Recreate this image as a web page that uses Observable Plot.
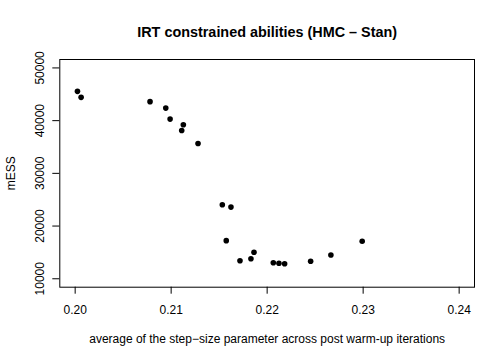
<!DOCTYPE html>
<html>
<head>
<meta charset="utf-8">
<script src="https://cdn.jsdelivr.net/npm/d3@7"></script>
<script src="https://cdn.jsdelivr.net/npm/@observablehq/plot@0.6"></script>
<style>
  html, body { margin: 0; padding: 0; background: #fff; }
  svg { display: block; }
</style>
</head>
<body>
<div id="chart"></div>
<script>
const title = "IRT constrained abilities (HMC \u2013 Stan)";
const xLabel = "average of the step\u2212size parameter across post warm-up iterations";
const yLabel = "mESS";

const stepSize = [0.20024, 0.20062, 0.20780, 0.20944, 0.20989, 0.21127, 0.21110, 0.21280,
  0.21533, 0.21623, 0.21574, 0.21717, 0.21831, 0.21863, 0.22064, 0.22123, 0.22182,
  0.22453, 0.22664, 0.22990];
const mESS = [45560, 44420, 43600, 42380, 40290, 39220, 38130, 35660,
  24040, 23600, 17230, 13420, 13810, 15020, 13040, 12930, 12850,
  13310, 14510, 17120];

const xTicks = [0.20, 0.21, 0.22, 0.23, 0.24];
const yTicks = [10000, 20000, 30000, 40000, 50000];

const data = stepSize.map((x, i) => ({x, y: mESS[i]}));

const font = "'Liberation Sans', Arial, Helvetica, sans-serif";

const chart = Plot.plot({
  width: 504,
  height: 360,
  marginLeft: 59.3,
  marginRight: 30,
  marginTop: 59,
  marginBottom: 73.3,
  style: {fontFamily: font, fontSize: "12px", color: "#000", background: "#fff"},
  x: {domain: [0.1984, 0.2416], label: null},
  y: {domain: [8400, 51600], label: null},
  marks: [
    Plot.frame({stroke: "#000", strokeWidth: 1}),
    Plot.axisX({ticks: xTicks, tickSize: 7, tickPadding: 11, tickFormat: d3.format(".2f"),
      fontSize: 12, label: null, stroke: "#000"}),
    Plot.axisY({ticks: yTicks, tickSize: 7, tickFormat: () => "", label: null, stroke: "#000"}),
    Plot.text(yTicks, {y: d => d, text: d => String(d), frameAnchor: "left", rotate: -90,
      dx: -20, textAnchor: "middle", lineAnchor: "middle", fontSize: 12, fill: "#000"}),
    Plot.dot(data, {x: "x", y: "y", r: 2.8, fill: "#000", stroke: null}),
    Plot.text([title], {text: d => d, frameAnchor: "top", dy: -27, lineAnchor: "middle",
      fontSize: 14.4, fontWeight: "bold", fill: "#000"}),
    Plot.text([xLabel], {text: d => d, frameAnchor: "bottom", dy: 51.5, lineAnchor: "middle",
      fontSize: 12, fill: "#000"}),
    Plot.text([yLabel], {text: d => d, frameAnchor: "left", rotate: -90, dx: -48.5,
      lineAnchor: "middle", textAnchor: "middle", fontSize: 12, fill: "#000"})
  ]
});
document.getElementById("chart").appendChild(chart);
</script>
</body>
</html>
